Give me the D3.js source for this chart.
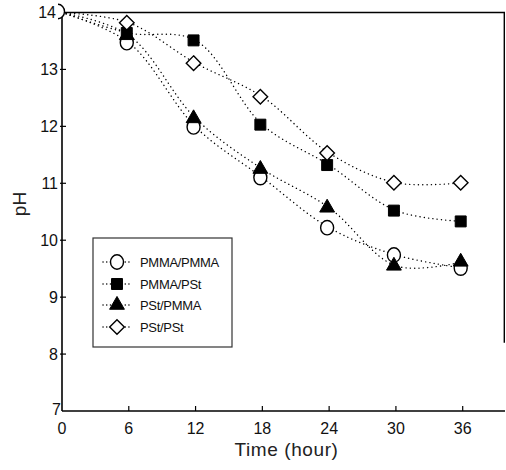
<!DOCTYPE html>
<html>
<head>
<meta charset="utf-8">
<script src="https://cdn.jsdelivr.net/npm/d3@7/dist/d3.min.js"></script>
<style>
  html, body { margin: 0; padding: 0; background: #fff; }
  svg { display: block; }
  text { font-family: "Liberation Sans", Arial, sans-serif; fill: #111; }
</style>
</head>
<body>
<svg id="chart" width="506" height="470"></svg>
<script>
// Sampling times (hour)
const hours = [0, 6, 12, 18, 24, 30, 36];

// pH readings for each membrane pair
const pmmaPmma = [14, 13.47, 11.99, 11.10, 10.22, 9.74, 9.51];
const pmmaPst  = [14, 13.64, 13.51, 12.03, 11.32, 10.52, 10.33];
const pstPmma  = [14, 13.60, 12.14, 11.25, 10.57, 9.55, 9.62];
const pstPst   = [14, 13.82, 13.11, 12.52, 11.53, 11.01, 11.01];

const seriesNames = ["PMMA/PMMA", "PMMA/PSt", "PSt/PMMA", "PSt/PSt"];
const seriesValues = [pmmaPmma, pmmaPst, pstPmma, pstPst];
const seriesSymbols = ["circle", "square", "triangle", "diamond"];

const xTicks = [0, 6, 12, 18, 24, 30, 36];
const yTicks = [7, 8, 9, 10, 11, 12, 13, 14];

const W = 506, H = 470;
const margin = { top: 12.5, right: 1, bottom: 59, left: 62 };

const svg = d3.select("#chart");

const x = d3.scaleLinear().domain([0, 39.8]).range([margin.left, W - margin.right]);
const y = d3.scaleLinear().domain([7, 14]).range([H - margin.bottom, margin.top]);

// marker shapes
const symbolType = {
  circle: d3.symbolCircle,
  square: d3.symbolSquare,
  triangle: d3.symbolTriangle,
  diamond: d3.symbolDiamond
};
const symbolSize = { circle: 150, square: 120, triangle: 95, diamond: 120 };
const symbolFill = { circle: "#fff", square: "#000", triangle: "#000", diamond: "#fff" };

function drawSymbol(g, kind, cx, cy) {
  if (kind === "diamond") {
    // wider diamond than d3's default
    const s = 7.3;
    g.append("path")
      .attr("d", `M${cx},${cy - s}L${cx + s},${cy}L${cx},${cy + s}L${cx - s},${cy}Z`)
      .attr("fill", "#fff").attr("stroke", "#000").attr("stroke-width", 1.4);
    return;
  }
  if (kind === "circle") {
    g.append("ellipse")
      .attr("cx", cx).attr("cy", cy).attr("rx", 6.5).attr("ry", 7.2)
      .attr("fill", "#fff").attr("stroke", "#000").attr("stroke-width", 1.4);
    return;
  }
  g.append("path")
    .attr("transform", `translate(${cx},${cy})`)
    .attr("d", d3.symbol().type(symbolType[kind]).size(symbolSize[kind])())
    .attr("fill", symbolFill[kind])
    .attr("stroke", "#000").attr("stroke-width", 1);
}

// clip region for the shared starting marker (only its right half shows)
svg.append("defs").append("clipPath").attr("id", "plotClip")
  .append("rect")
  .attr("x", margin.left - 4).attr("y", 0)
  .attr("width", W - margin.left).attr("height", H - margin.bottom);

// frame: top edge and right edge
svg.append("line")
  .attr("x1", x(0)).attr("x2", x(39.8))
  .attr("y1", y(14)).attr("y2", y(14))
  .attr("stroke", "#000").attr("stroke-width", 1.4);
svg.append("line")
  .attr("x1", x(39.8) - 0.7).attr("x2", x(39.8) - 0.7)
  .attr("y1", y(14)).attr("y2", y(8.2))
  .attr("stroke", "#000").attr("stroke-width", 1.4);

// y axis
const yAxis = svg.append("g").attr("transform", `translate(${margin.left},0)`);
yAxis.append("line")
  .attr("x1", 0).attr("x2", 0).attr("y1", y(14)).attr("y2", y(7))
  .attr("stroke", "#000").attr("stroke-width", 1.6);
yAxis.selectAll("line.tick").data(yTicks.filter(d => d > 7 && d < 14)).enter()
  .append("line").attr("class", "tick")
  .attr("x1", -2).attr("x2", 4)
  .attr("y1", d => y(d)).attr("y2", d => y(d))
  .attr("stroke", "#000").attr("stroke-width", 1.2);
yAxis.selectAll("text").data(yTicks).enter()
  .append("text")
  .attr("x", d => d === 7 ? -1 : d === 14 ? -6 : -4)
  .attr("y", d => d === 7 ? y(d) - 2 : y(d))
  .attr("dy", "0.36em")
  .attr("text-anchor", "end")
  .attr("font-size", 16)
  .text(d => d);

// x axis
const xAxis = svg.append("g").attr("transform", `translate(0,${y(7)})`);
xAxis.append("line")
  .attr("x1", x(0)).attr("x2", x(39.8)).attr("y1", 0).attr("y2", 0)
  .attr("stroke", "#000").attr("stroke-width", 1.6);
xAxis.selectAll("line.tick").data(xTicks.filter(d => d > 0)).enter()
  .append("line").attr("class", "tick")
  .attr("x1", d => x(d)).attr("x2", d => x(d))
  .attr("y1", 0).attr("y2", -5)
  .attr("stroke", "#000").attr("stroke-width", 1.2);
xAxis.selectAll("text").data(xTicks).enter()
  .append("text")
  .attr("x", d => x(d))
  .attr("y", 22.5)
  .attr("text-anchor", "middle")
  .attr("font-size", 16)
  .text(d => d);

// axis titles
svg.append("text")
  .attr("x", (x(0) + x(39.8)) / 2 + 3)
  .attr("y", 456)
  .attr("text-anchor", "middle")
  .attr("font-size", 19)
  .attr("letter-spacing", 0.6)
  .style("fill", "#222")
  .text("Time (hour)");
svg.append("text")
  .attr("transform", "translate(26,204) rotate(-90)")
  .attr("text-anchor", "middle")
  .attr("font-size", 19)
  .style("fill", "#222")
  .text("pH");

// dotted curves
const line = d3.line()
  .x((d, i) => x(hours[i]))
  .y(d => y(d))
  .curve(d3.curveCatmullRom.alpha(0.5));

const plot = svg.append("g");
seriesValues.forEach(vals => {
  plot.append("path")
    .attr("d", line(vals))
    .attr("fill", "none")
    .attr("stroke", "#000")
    .attr("stroke-width", 1.4)
    .attr("stroke-linecap", "round")
    .attr("stroke-dasharray", "0.1,4.2");
});

// markers (drawn in series order so later ones sit on top)
const markers = svg.append("g");
seriesValues.forEach((vals, s) => {
  vals.forEach((v, i) => {
    if (i === 0) return;
    drawSymbol(markers, seriesSymbols[s], x(hours[i]) - 2, y(v));
  });
});
// shared starting point
const origin = svg.append("g").attr("clip-path", "url(#plotClip)");
drawSymbol(origin, "circle", x(0) - 4, y(14) - 1);

// legend
const lg = svg.append("g");
const lgX = 93, lgY = 238, lgW = 139, lgH = 109;
lg.append("rect")
  .attr("x", lgX).attr("y", lgY).attr("width", lgW).attr("height", lgH)
  .attr("fill", "#fff").attr("stroke", "#333").attr("stroke-width", 1.2);
const rowY = [262, 284, 305, 327];
seriesNames.forEach((name, i) => {
  const ry = rowY[i];
  lg.append("line")
    .attr("x1", 103).attr("x2", 131).attr("y1", ry).attr("y2", ry)
    .attr("stroke", "#000").attr("stroke-width", 1.4)
    .attr("stroke-linecap", "round")
    .attr("stroke-dasharray", "0.1,3.6");
  drawSymbol(lg, seriesSymbols[i], 117, ry);
  lg.append("text")
    .attr("x", 140).attr("y", ry)
    .attr("dy", "0.36em")
    .attr("font-size", 13)
    .attr("letter-spacing", -0.3)
    .text(name);
});
</script>
</body>
</html>
